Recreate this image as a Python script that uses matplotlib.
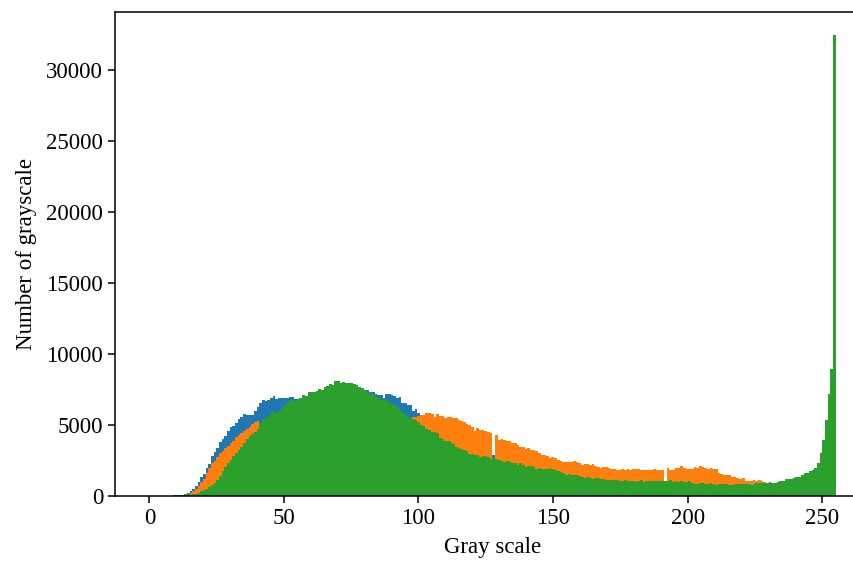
import matplotlib

matplotlib.use("Agg")
import matplotlib.pyplot as plt
import numpy as np

###############################################################################
# データ (各階調 0..255 のカウント、画像から読み取った値)
###############################################################################

levels = np.arange(256)

blue_counts = [
    0, 0, 0, 0, 0, 0, 0, 0, 0, 0,
    0, 0, 60, 141, 235, 352, 517, 705, 964, 1316,
    1551, 1951, 2256, 2820, 3102, 3384, 3807, 4042, 4230, 4606,
    4841, 4935, 5170, 5405, 5593, 5758, 5687, 5687, 5687, 6016,
    6251, 6580, 6768, 6721, 6768, 6886, 7050, 6862, 6909, 6900,
    6900, 6900, 6970, 6970, 6830, 6830, 6700, 6750, 6800, 6850,
    6900, 6900, 6950, 7000, 7000, 7050, 7050, 7100, 7100, 7100,
    7150, 7150, 7200, 7200, 7250, 7300, 7350, 7400, 7450, 7450,
    7460, 7460, 7320, 7320, 7180, 7110, 7110, 6900, 7180, 7180,
    7110, 7040, 6900, 6970, 6550, 6550, 6410, 6410, 5980, 6130,
    5840, 5400, 5200, 5000, 4900, 4800, 4700, 4600, 4400, 4300,
    4200, 4100, 4000, 3900, 3800, 3700, 3600, 3500, 3400, 3300,
    3250, 3200, 3150, 3100, 3050, 3000, 2950, 2900, 2860, 2800,
    2750, 2700, 2650, 2600, 2550, 2500, 2450, 2400, 2350, 2300,
    2250, 2200, 2150, 2100, 2050, 2000, 1950, 1900, 1850, 1800,
    1750, 1700, 1650, 1600, 1560, 1520, 1480, 1440, 1400, 1360,
    1320, 1280, 1240, 1200, 1180, 1160, 1140, 1120, 1100, 1090,
    1080, 1070, 1060, 1050, 1040, 1030, 1020, 1010, 1000, 990,
    980, 970, 960, 950, 940, 930, 920, 910, 900, 900,
    900, 900, 900, 900, 900, 900, 890, 880, 870, 860,
    850, 840, 830, 820, 810, 800, 800, 790, 790, 780,
    780, 770, 770, 760, 760, 750, 750, 740, 740, 730,
    730, 720, 720, 720, 720, 720, 720, 730, 740, 750,
    760, 780, 800, 820, 850, 880, 920, 960, 1000, 1050,
    1100, 1150, 1250, 1350, 1450, 1550, 1650, 1800, 1950, 2100,
    2500, 3000, 3800, 4800, 6200, 15000,
]

orange_counts = [
    0, 0, 0, 0, 0, 0, 0, 0, 0, 0,
    20, 40, 50, 90, 141, 235, 352, 517, 705, 964,
    1175, 1600, 1950, 2303, 2491, 2773, 3008, 3196, 3361, 3525,
    3760, 3901, 4136, 4277, 4418, 4606, 4747, 4888, 5076, 5217,
    5264, 5100, 5300, 5380, 5450, 5560, 5620, 5680, 5720, 5780,
    5830, 5880, 5930, 5980, 6020, 6060, 6110, 6160, 6200, 6240,
    6280, 6310, 6330, 6350, 6370, 6390, 6400, 6410, 6420, 6420,
    6410, 6400, 6390, 6380, 6360, 6340, 6320, 6300, 6280, 6260,
    6240, 6220, 6200, 6180, 6150, 6120, 6090, 6060, 6030, 6000,
    5900, 5850, 5800, 5700, 5650, 5600, 5550, 5480, 5560, 5560,
    5630, 5700, 5700, 5840, 5840, 5770, 5560, 5770, 5630, 5630,
    5490, 5560, 5560, 5490, 5490, 5350, 5280, 5210, 5070, 5000,
    4860, 4580, 4790, 4650, 4650, 4580, 4510, 4440, 0, 4300,
    3940, 4010, 3940, 3870, 3870, 3730, 3730, 3590, 3450, 3450,
    3310, 3380, 3240, 3240, 3170, 3030, 2890, 2890, 2820, 2680,
    2750, 2680, 2530, 2460, 2390, 2390, 2390, 2390, 2460, 2390,
    2320, 2180, 2250, 2250, 2180, 2250, 2110, 2040, 1970, 2040,
    2040, 1970, 1900, 1900, 1830, 1830, 1900, 1830, 1900, 1830,
    1900, 1900, 1900, 1830, 1830, 1830, 1830, 1830, 1900, 1830,
    1830, 1830, 0, 1970, 1830, 1830, 1970, 1970, 2110, 1970,
    1900, 1900, 1900, 2040, 1970, 2110, 2040, 1970, 1900, 1970,
    1880, 1880, 1640, 1550, 1500, 1460, 1460, 1360, 1310, 1270,
    1170, 1270, 1030, 1030, 1030, 1130, 1030, 1130, 1080, 990,
    940, 850, 800, 760, 720, 700, 690, 700, 720, 740,
    760, 800, 820, 870, 900, 950, 1000, 1060, 1150, 1300,
    1600, 2000, 2700, 3500, 4300, 9000,
]

green_counts = [
    0, 0, 0, 0, 0, 0, 10, 20, 30, 40,
    60, 80, 100, 120, 130, 94, 141, 141, 235, 330,
    423, 517, 611, 752, 893, 1128, 1434, 1786, 2021, 2303,
    2538, 2820, 3008, 3243, 3478, 3713, 4042, 4230, 4371, 4536,
    4747, 5123, 5405, 5405, 5546, 5922, 5875, 5828, 5969, 6210,
    6360, 6570, 6670, 6760, 6720, 6760, 6900, 7110, 7040, 7320,
    7320, 7320, 7390, 7530, 7460, 7670, 7770, 7890, 7820, 8100,
    8100, 7960, 8030, 7960, 7960, 7940, 7890, 7820, 7670, 7600,
    7460, 7320, 7230, 7160, 6990, 6920, 6760, 6900, 6760, 6620,
    6480, 6410, 6270, 6060, 5840, 5770, 5630, 5490, 5420, 5350,
    5210, 5000, 4930, 4720, 4650, 4510, 4510, 4440, 4080, 4010,
    3870, 3870, 3800, 3660, 3450, 3380, 3310, 3240, 3170, 2960,
    2960, 2890, 2890, 2750, 2820, 2820, 2750, 2610, 2680, 2610,
    2530, 2460, 2390, 2460, 2390, 2320, 2320, 2180, 2320, 2180,
    2040, 2110, 2110, 2040, 1900, 1970, 1900, 1900, 1900, 1970,
    1900, 1830, 1760, 1690, 1640, 1500, 1570, 1480, 1480, 1480,
    1410, 1360, 1290, 1340, 1270, 1200, 1270, 1270, 1200, 1200,
    1130, 1130, 1130, 1130, 1130, 1060, 1060, 1130, 1060, 1060,
    1060, 990, 1060, 1130, 990, 1060, 1060, 1060, 1060, 1060,
    1060, 1060, 1060, 1060, 1130, 990, 1060, 990, 1060, 990,
    990, 1060, 920, 850, 850, 920, 890, 845, 845, 890,
    845, 800, 845, 845, 845, 845, 800, 800, 845, 845,
    845, 845, 845, 845, 800, 845, 890, 890, 890, 890,
    890, 990, 940, 940, 990, 1080, 1080, 1170, 1170, 1170,
    1270, 1360, 1360, 1500, 1640, 1640, 1780, 1780, 1970, 2300,
    3050, 3940, 5350, 7180, 8970, 32460,
]

###############################################################################
# Figure / Axes
###############################################################################

plt.rcParams["font.family"] = ["Liberation Serif", "DejaVu Serif"]
plt.rcParams["font.size"] = 16.5

fig = plt.figure(figsize=(8.54, 5.63), dpi=100)
# 右端は元画像で切れているので Axes を図の外まで伸ばす
ax = fig.add_axes([115 / 854, 67 / 563, 755 / 854, 484 / 563])

for counts, colour in [
    (blue_counts, "tab:blue"),
    (orange_counts, "tab:orange"),
    (green_counts, "tab:green"),
]:
    ax.hist(levels, bins=256, range=(0, 255), weights=counts, color=colour)

ax.set_xticks([0, 50, 100, 150, 200, 250])
ax.set_yticks(np.arange(0, 30001, 5000))
ax.tick_params(length=5, width=1.1)
for spine in ax.spines.values():
    spine.set_linewidth(1.1)

ax.set_xlabel("Gray scale", labelpad=6)
ax.set_ylabel("Number of grayscale", labelpad=7)

fig.savefig("out.png", dpi=100)
